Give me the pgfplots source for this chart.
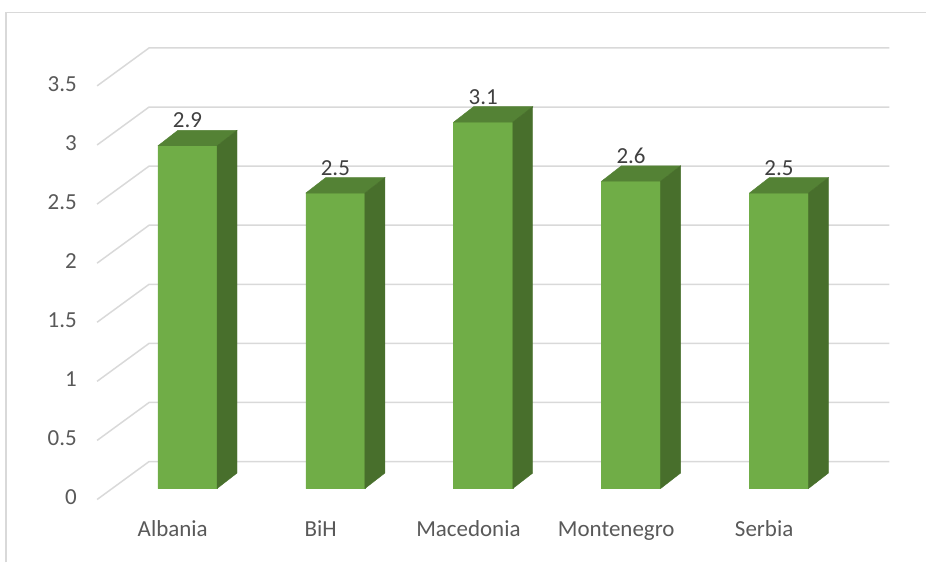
\documentclass[border=0pt]{standalone}
\usepackage{pgfplots}
\usepackage{pgfplotstable}
\pgfplotsset{compat=1.18}
\usepackage{fontspec}
\setmainfont{Carlito}
\definecolor{barfront}{HTML}{70AD47}
\definecolor{bartop}{HTML}{548235}
\definecolor{barside}{HTML}{486F2C}
\definecolor{gridc}{HTML}{D9D9D9}
\definecolor{tickc}{HTML}{595959}
\definecolor{labc}{HTML}{404040}
\pgfplotstableread[col sep=comma]{
name,v
Albania,2.9
BiH,2.5
Macedonia,3.1
Montenegro,2.6
Serbia,2.5
}\datatable
\newcommand{\chartfont}{\fontsize{11.5}{13}\selectfont}
\begin{document}
\begin{tikzpicture}
\begin{axis}[
  width=463.5pt, height=281.5pt, scale only axis,
  xmin=-1.2669, xmax=4.9966, ymin=-0.6255, ymax=4.1336,
  axis line style={draw=none},
  major tick length=0pt,
  xtick=\empty,
  ytick={0,0.5,1,1.5,2,2.5,3,3.5},
  yticklabel style={anchor=east, inner sep=0pt, xshift=38.5pt, yshift=-4.5pt, text=tickc, font=\chartfont},
  /pgf/number format/assume math mode=true,
  clip=false,
]
% chart border
\addplot[gridc, line width=0.75pt, mark=none] coordinates {(-1.226,-0.6255) (-1.226,4.0279) (4.9966,4.0279)};
% gridlines (front diagonal + back wall)
\pgfplotsinvokeforeach{0,0.5,1,1.5,2,2.5,3,3.5}{
  \pgfmathsetmacro\ya{#1-0.093}
  \pgfmathsetmacro\yb{#1+0.228}
  \edef\tmp{\noexpand\addplot[gridc, line width=0.75pt, mark=none] coordinates {(-0.6115,\ya) (-0.260,\yb) (4.747,\yb)};}
  \tmp
}
% 3D bars
\pgfplotsinvokeforeach{0,...,4}{
  \pgfplotstablegetelem{#1}{v}\of\datatable
  \pgfmathsetmacro\vt{\pgfplotsretval}
  \pgfmathsetmacro\vtb{\vt+0.131}
  \pgfmathsetmacro\xl{#1-0.2}
  \pgfmathsetmacro\xr{#1+0.2}
  \pgfmathsetmacro\xlb{#1-0.2+0.135}
  \pgfmathsetmacro\xrb{#1+0.2+0.135}
  \edef\tmp{%
    \noexpand\addplot[fill=barfront, draw=barfront, line width=0.2pt, mark=none] coordinates {(\xl,0) (\xr,0) (\xr,\vt) (\xl,\vt) (\xl,0)};
    \noexpand\addplot[fill=bartop, draw=bartop, line width=0.2pt, mark=none] coordinates {(\xl,\vt) (\xr,\vt) (\xrb,\vtb) (\xlb,\vtb) (\xl,\vt)};
    \noexpand\addplot[fill=barside, draw=barside, line width=0.2pt, mark=none] coordinates {(\xr,0) (\xrb,0.131) (\xrb,\vtb) (\xr,\vt) (\xr,0)};
  }
  \tmp
}
% data labels
\addplot[draw=none, mark=none, nodes near coords, point meta=explicit symbolic,
  every node near coord/.append style={inner sep=0pt, text depth=0pt, text=labc, font=\chartfont}]
  table[x expr=\coordindex, y expr=\thisrow{v}+0.148, meta=v] {\datatable};
% category labels
\addplot[draw=none, mark=none, nodes near coords, point meta=explicit symbolic,
  every node near coord/.append style={inner sep=0pt, text depth=0pt, text=tickc, font=\chartfont, yshift=-24.6pt}]
  table[x expr=\coordindex-0.1, y expr=0.01, meta=name] {\datatable};
\end{axis}
\end{tikzpicture}
\end{document}
